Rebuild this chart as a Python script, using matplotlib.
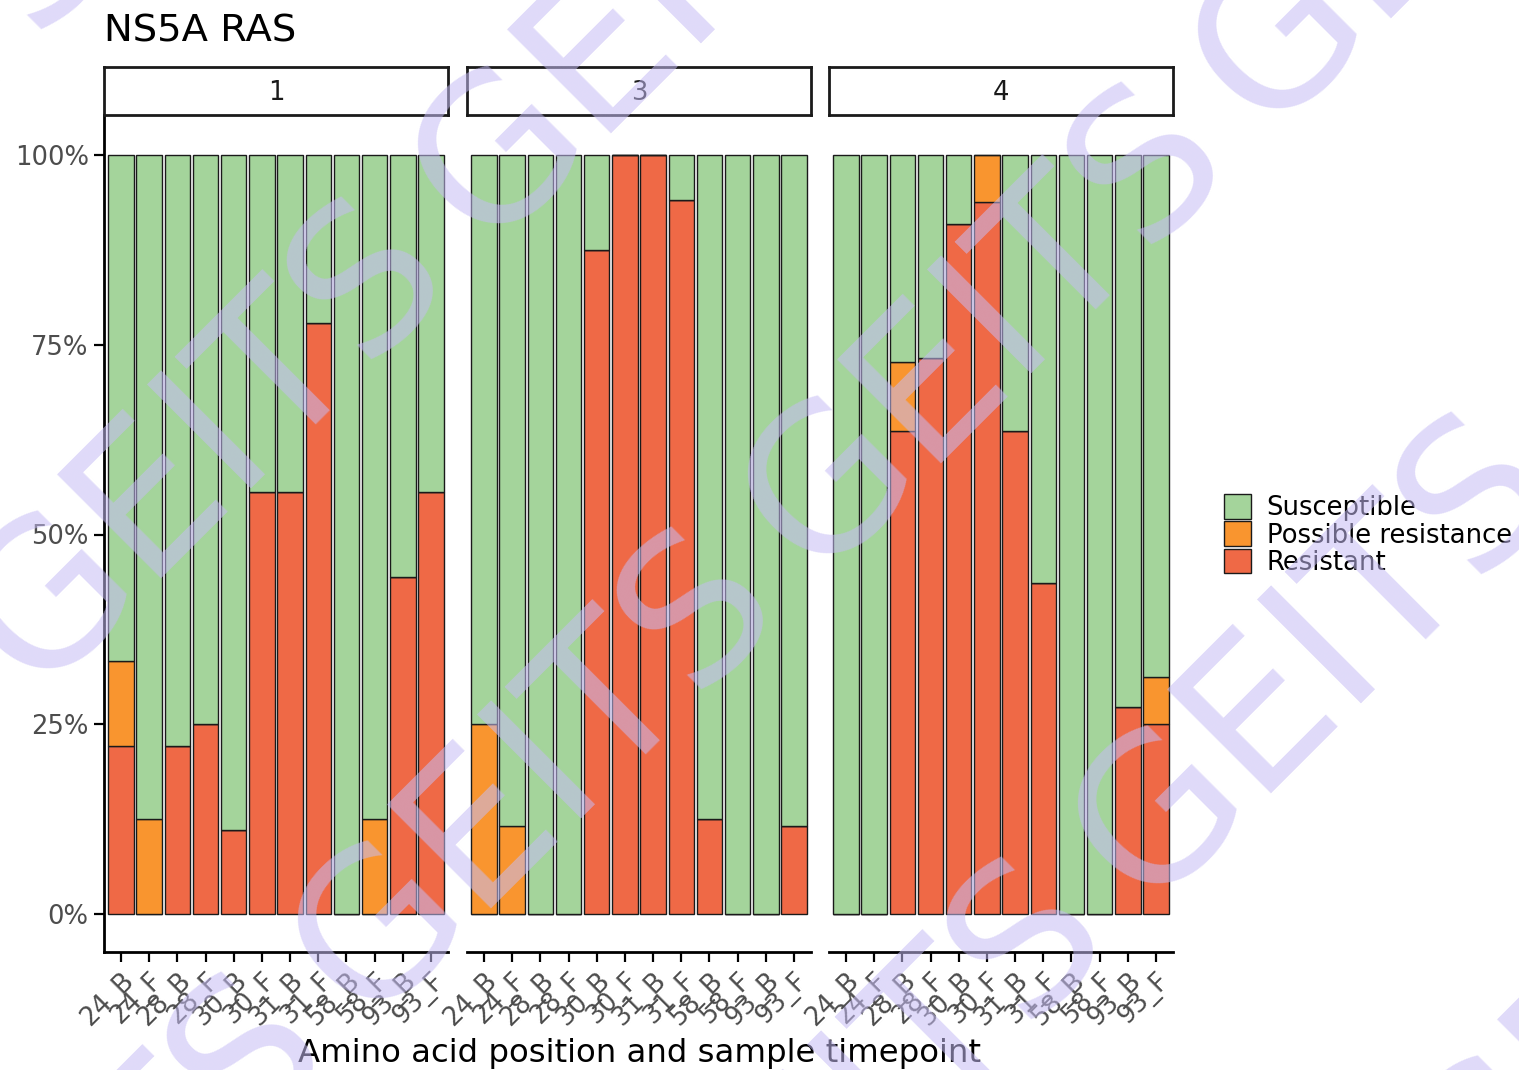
import matplotlib
matplotlib.use("Agg")
import matplotlib.pyplot as plt
from matplotlib.patches import Patch
import numpy as np

# Amino acid position + sample timepoint (B = baseline, F = failure)
positions = ["24_B", "24_F", "28_B", "28_F", "30_B", "30_F",
             "31_B", "31_F", "58_B", "58_F", "93_B", "93_F"]
genotypes = ["1", "3", "4"]

# % of sequences per call, one list per genotype panel
resistant_g1 = [22.2, 0, 22.2, 25.0, 11.1, 55.6, 55.6, 77.8, 0, 0, 44.4, 55.6]
possible_g1 = [11.1, 12.5, 0, 0, 0, 0, 0, 0, 0, 12.5, 0, 0]
resistant_g3 = [0, 0, 0, 0, 87.5, 100, 100, 94.1, 12.5, 0, 0, 11.6]
possible_g3 = [25.0, 11.6, 0, 0, 0, 0, 0, 0, 0, 0, 0, 0]
resistant_g4 = [0, 0, 63.6, 73.3, 90.9, 93.8, 63.6, 43.6, 0, 0, 27.3, 25.0]
possible_g4 = [0, 0, 9.1, 0, 0, 6.2, 0, 0, 0, 0, 0, 6.2]

resistant = [resistant_g1, resistant_g3, resistant_g4]
possible = [possible_g1, possible_g3, possible_g4]

categories = ["Susceptible", "Possible resistance", "Resistant"]
colors = {"Susceptible": "#a4d49b",
          "Possible resistance": "#f9952f",
          "Resistant": "#ef6946"}

W, H = 1519, 1070
fig = plt.figure(figsize=(W / 100, H / 100), dpi=100)
fig.patch.set_facecolor("white")

def fx(px):
    return px / W

def fy(py):
    return 1 - py / H

panel_left = [104, 467, 829]
panel_w = 344
panel_top, panel_bottom = 117, 952
tick_size = 18.6
grey = "#4d4d4d"

x = np.arange(len(positions))
for i, g in enumerate(genotypes):
    ax = fig.add_axes([fx(panel_left[i]), fy(panel_bottom),
                       panel_w / W, (panel_bottom - panel_top) / H])
    r = np.array(resistant[i])
    p = np.array(possible[i])
    s = 100 - r - p
    kw = dict(width=0.9, edgecolor="#1a1a1a", linewidth=1.0)
    ax.bar(x, r, color=colors["Resistant"], **kw)
    ax.bar(x, p, bottom=r, color=colors["Possible resistance"], **kw)
    ax.bar(x, s, bottom=r + p, color=colors["Susceptible"], **kw)

    ax.set_xlim(-0.6, len(positions) - 0.4)
    ax.set_ylim(-5, 105)
    ax.set_xticks(x)
    ax.set_xticklabels(positions, rotation=45, ha="right", va="top",
                       rotation_mode="anchor", fontsize=tick_size, color=grey)
    for sp in ["top", "right"]:
        ax.spines[sp].set_visible(False)
    ax.spines["bottom"].set_linewidth(2.0)
    ax.spines["left"].set_linewidth(2.0)
    ax.tick_params(axis="both", length=7, width=1.6, color="black", pad=4)
    if i == 0:
        ax.set_yticks([0, 25, 50, 75, 100])
        ax.set_yticklabels(["0%", "25%", "50%", "75%", "100%"],
                           fontsize=tick_size, color=grey)
    else:
        ax.spines["left"].set_visible(False)
        ax.set_yticks([])

    # facet strip
    strip = fig.add_axes([fx(panel_left[i]), fy(115), panel_w / W, 48 / H])
    strip.set_xticks([])
    strip.set_yticks([])
    for sp in strip.spines.values():
        sp.set_linewidth(2.0)
        sp.set_color("#1a1a1a")
    strip.text(0.5, 0.45, g, ha="center", va="center",
               fontsize=tick_size, color="#1a1a1a", transform=strip.transAxes)

fig.text(fx(104), fy(42), "NS5A RAS", fontsize=27.7, ha="left",
         va="baseline", color="black")
fig.text(fx(639), fy(1062), "Amino acid position and sample timepoint",
         fontsize=23.3, ha="center", va="baseline", color="black")

handles = [Patch(facecolor=colors[c], edgecolor="#1a1a1a", linewidth=1.0)
           for c in categories]
fig.legend(handles, categories, loc="center left",
           bbox_to_anchor=(fx(1211), fy(535)), frameon=False,
           fontsize=tick_size, handlelength=1.05, handleheight=1.1,
           labelspacing=0.0, handletextpad=0.6, borderpad=0)

# diagonal site watermark
v1 = np.array([330, 330])
v2 = np.array([450, -445])
origin = np.array([205, 445])
for a in range(-3, 4):
    for b in range(-3, 4):
        cx, cy = origin + a * v1 + b * v2
        if -400 < cx < W + 400 and -400 < cy < H + 400:
            fig.text(fx(cx), fy(cy), "GEITS", fontsize=145, rotation=45,
                     ha="center", va="center", rotation_mode="anchor",
                     color="#c6bcf5", alpha=0.55, zorder=20)

fig.savefig("out.png", dpi=100)
